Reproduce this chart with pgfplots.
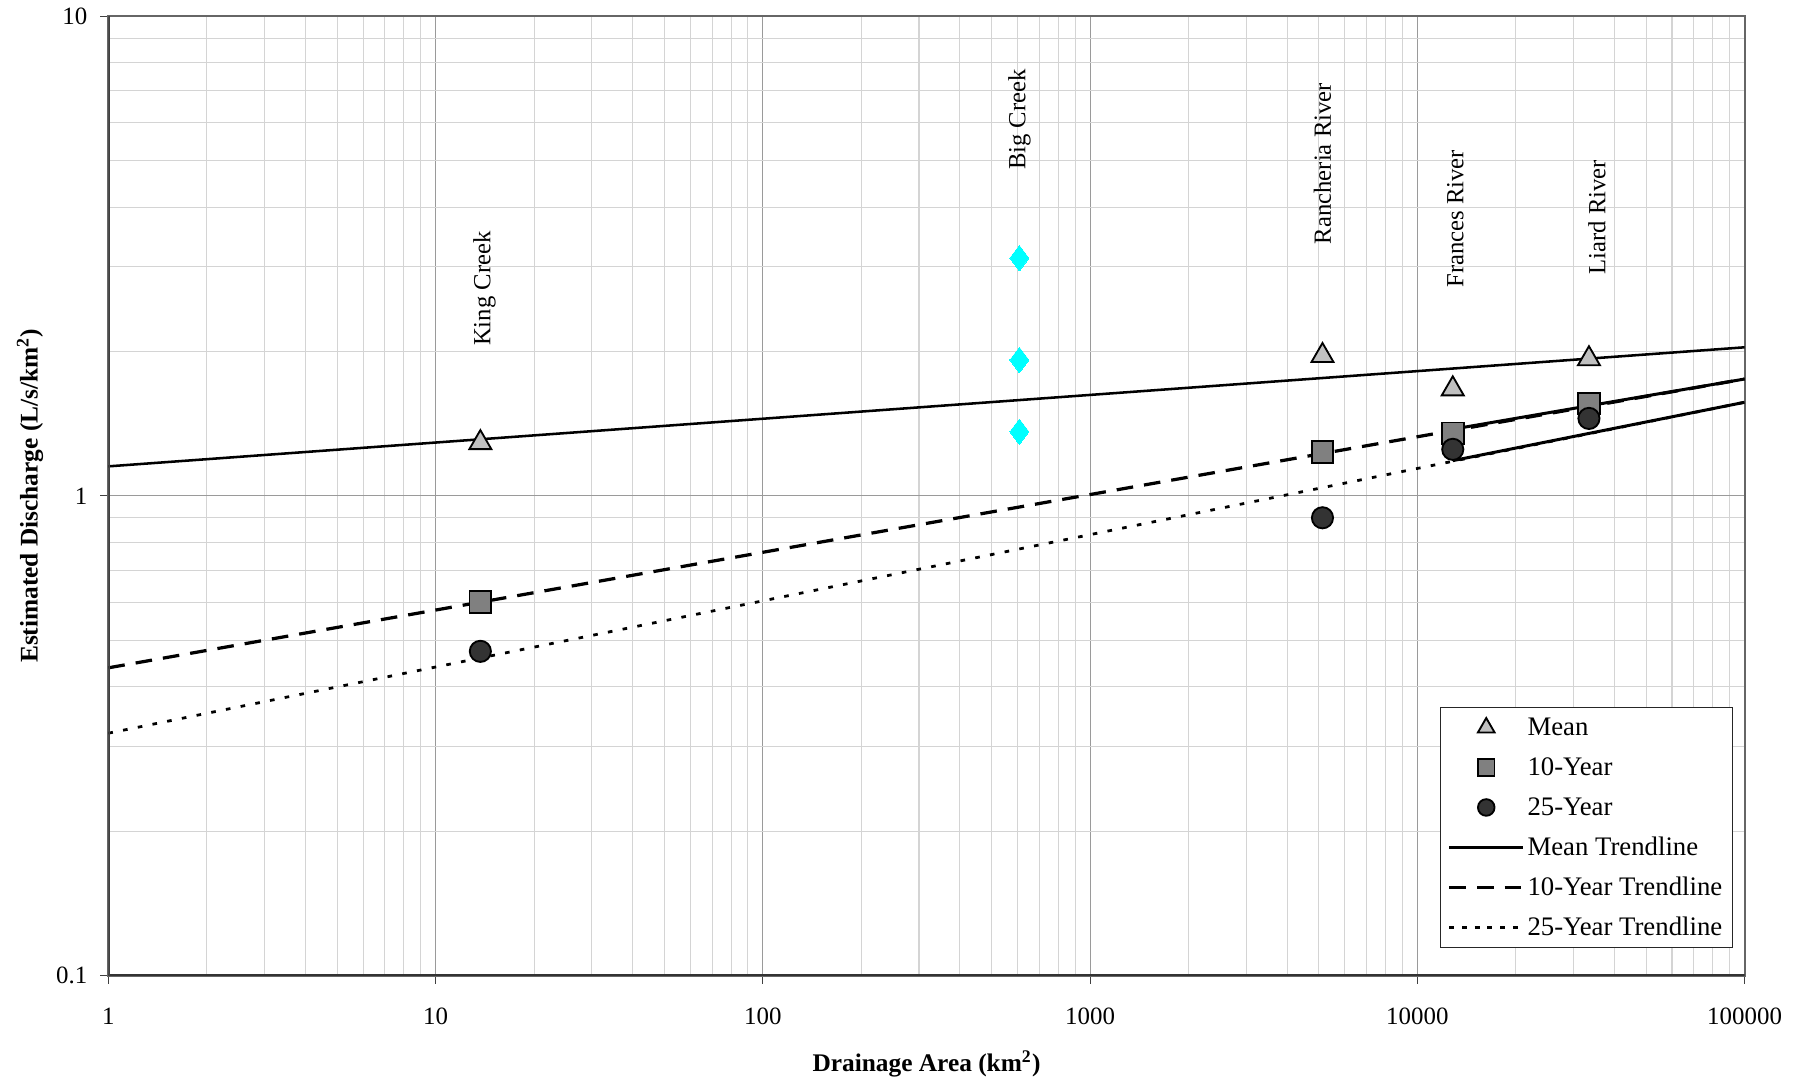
\documentclass[border=0pt]{standalone}
\usepackage{fontspec}
\setmainfont{Liberation Serif}
\usepackage{pgfplots}
\pgfplotsset{compat=1.18}
\definecolor{meanfill}{HTML}{C0C0C0}
\definecolor{tenfill}{HTML}{808080}
\definecolor{twfill}{HTML}{333333}
\definecolor{minorgrid}{HTML}{D4D4D4}
\definecolor{majorgrid}{HTML}{9A9A9A}
\definecolor{aqua}{HTML}{00FFFF}
\begin{document}
\begin{tikzpicture}
\path[use as bounding box] (-47pt,-46.5pt) rectangle (737pt,423pt);
\begin{axis}[
  at={(0pt,0pt)}, anchor=south west,
  scale only axis, width=709.5pt, height=416pt,
  xmode=log, ymode=log,
  xmin=1, xmax=100000, ymin=0.1, ymax=10,
  xtick={1,10,100,1000,10000,100000},
  xticklabels={1,10,100,1000,10000,100000},
  ytick={0.1,1,10},
  yticklabels={0.1,1,10},
  xtick pos=bottom, ytick pos=left,
  /pgf/number format/assume math mode=true,
  tick label style={font=\fontsize{10.8}{12}\selectfont},
  tick align=outside,
  major tick length=3.6pt,
  minor tick length=0pt,
  tick style={black!75, line width=0.5pt},
  grid=both,
  major grid style={majorgrid, line width=0.45pt},
  minor grid style={minorgrid, line width=0.45pt},
  axis line style={black!60, line width=0.9pt},
  xlabel={\textbf{Drainage Area (km\textsuperscript{2})}},
  ylabel={\textbf{Estimated Discharge (L/s/km\textsuperscript{2})}},
  label style={font=\fontsize{11}{13}\selectfont},
  xlabel style={at={(axis description cs:0.5,-0.0925)}, anchor=center},
  ylabel style={at={(axis description cs:-0.0479,0.5)}, anchor=center},
  xticklabel style={yshift=-7pt},
  yticklabel style={xshift=-2pt},
  legend image code/.code={\draw[mark repeat=2,mark phase=2,#1] plot coordinates {(0pt,0pt) (16pt,0pt) (32pt,0pt)};},
  legend style={at={(0.99295,0.029)}, anchor=south east,
    draw=black!85, fill=white,
    font=\fontsize{11.6}{13}\selectfont,
    inner xsep=3.3pt, inner ysep=1.5pt,
    nodes={inner sep=1.2pt, text height=9.5pt, text depth=2.5pt},
    row sep=2.9pt},
  legend cell align=left,
]
% data markers
\addplot[only marks, mark=triangle*, mark size=5.5pt, mark options={fill=meanfill, draw=black, line width=0.8pt},
  legend image post style={mark size=4.2pt}]
  coordinates {(13.7,1.29) (5130,1.96) (12830,1.67) (33450,1.93)};
\addlegendentry{Mean}
\addplot[only marks, mark=square*, mark size=4.7pt, mark options={fill=tenfill, draw=black, line width=0.8pt},
  legend image post style={mark size=3.6pt}]
  coordinates {(13.7,0.601) (5130,1.234) (12830,1.35) (33450,1.556)};
\addlegendentry{10-Year}
\addplot[only marks, mark=*, mark size=4.6pt, mark options={fill=twfill, draw=black, line width=0.8pt},
  legend image post style={mark size=3.6pt}]
  coordinates {(13.7,0.474) (5130,0.90) (12830,1.25) (33450,1.45)};
\addlegendentry{25-Year}
\addplot[forget plot, only marks, mark=diamond*, mark size=5.5pt, mark options={fill=aqua, draw=aqua, line width=0pt}]
  coordinates {(608,3.13) (608,1.92) (608,1.36)};
% trendlines
\addplot[black, line width=1.1pt, no marks, legend image post style={line width=1.1pt}] coordinates {(1,1.152) (100000,2.04)};
\addlegendentry{Mean Trendline}
\addplot[black, line width=1.4pt, no marks, dash pattern=on 7.2pt off 4.8pt, legend image post style={line width=1.4pt}] coordinates {(1,0.438) (100000,1.752)};
\addlegendentry{10-Year Trendline}
\addplot[black, line width=1.2pt, no marks, dash pattern=on 2pt off 4.5pt,
  legend image post style={line width=1.2pt, dash pattern=on 2.2pt off 3.3pt}] coordinates {(1,0.32) (100000,1.567)};
\addlegendentry{25-Year Trendline}
\addplot[forget plot, black, line width=1.3pt, no marks] coordinates {(12830,1.377) (100000,1.752)};
\addplot[forget plot, black, line width=1.3pt, no marks] coordinates {(12830,1.184) (100000,1.567)};
% labels
\begin{scope}[every node/.style={rotate=90, anchor=west, inner sep=0pt, font=\fontsize{10.7}{12}\selectfont}]
\node at (axis cs:14.1,2.05) {King Creek};
\node at (axis cs:608,4.77) {Big Creek};
\node at (axis cs:5130,3.34) {Rancheria River};
\node at (axis cs:13060,2.71) {Frances River};
\node at (axis cs:35400,2.89) {Liard River};
\end{scope}
\draw[black!80, line width=1pt] (rel axis cs:0,0) -- (rel axis cs:1,0);
\draw[black!75, line width=1pt] (rel axis cs:0,0) -- (rel axis cs:0,1);
\end{axis}
\end{tikzpicture}
\end{document}
